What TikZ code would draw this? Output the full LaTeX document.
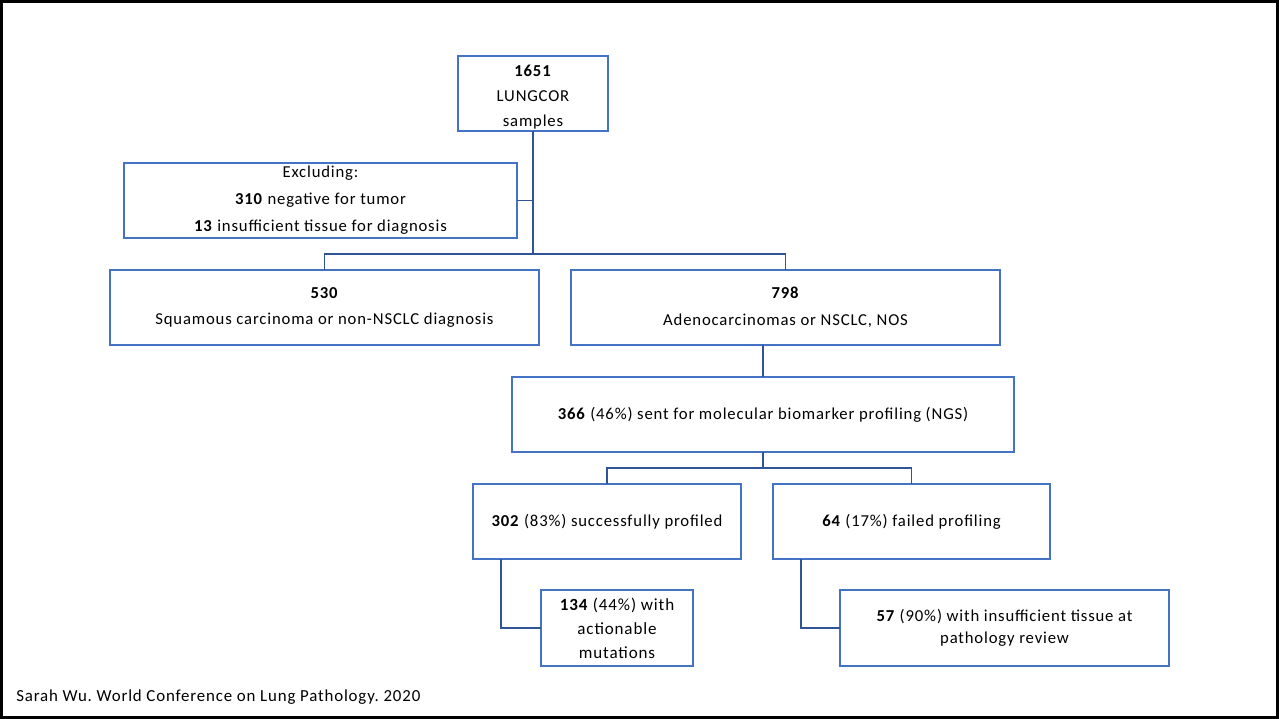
\documentclass[tikz,border=0pt]{standalone}
\usepackage{fontspec}
\setmainfont{Carlito}[LetterSpace=5]
\usepackage{tikz}
\usetikzlibrary{calc,positioning}
\frenchspacing
\definecolor{boxblue}{RGB}{68,114,196}
\definecolor{lineblue}{RGB}{47,85,151}
\tikzset{
  flowbox/.style args={#1,#2}{
  draw=boxblue,
  line width=0.8pt,
  align=center,
  inner sep=1pt,
  outer sep=0pt,
  minimum width=#1 cm,
  minimum height=#2 cm,
  font=\fontsize{9.5}{14.5}\selectfont
  },
  link/.style={draw=lineblue,line width=0.9pt,-},
  cite/.style={font=\fontsize{9.6}{11}\selectfont,anchor=west,inner sep=0pt}
}

\begin{document}
\begin{tikzpicture}

  \useasboundingbox (0,0) rectangle (25.58,-14.38);
  \draw [line width=1.2pt] (0.03,-0.03) rectangle (25.55,-14.35);

  \node [flowbox={3,1.5},inner ysep=0pt,font=\fontsize{9.5}{14}\selectfont] (lung) at (10.66,-1.87)
    {\rule{0pt}{3.7mm}\textbf{1651}\\LUNGCOR\\samples};
  \node [flowbox={7.86,1.5},below=6.4mm of lung,xshift=-4.25cm,font=\fontsize{9.5}{15.3}\selectfont] (excl)
    {Excluding:\\\textbf{310} negative for tumor\\\textbf{13} insufficient tissue for diagnosis};

  \node [flowbox={8.58,1.5},below=6.4mm of excl,xshift=0.08cm,font=\fontsize{9.5}{15.3}\selectfont] (squam)
    {\textbf{530}\\Squamous carcinoma or non-NSCLC diagnosis};
  \node [flowbox={8.58,1.5},right=6.4mm of squam,font=\fontsize{9.5}{15.3}\selectfont] (adeno)
    {\textbf{798}\\Adenocarcinomas or NSCLC, NOS};

  \node [flowbox={10.04,1.5},below=6.4mm of adeno,xshift=-0.45cm] (ngs)
    {\textbf{366} (46\%) sent for molecular biomarker profiling (NGS)};

  \node [flowbox={5.36,1.5},below=6.4mm of ngs,xshift=-3.12cm] (succ)
    {\textbf{302} (83\%) successfully profiled};
  \node [flowbox={5.54,1.5},right=6.4mm of succ] (fail)
    {\textbf{64} (17\%) failed profiling};

  \node [flowbox={3.04,1.52},below=6.2mm of succ,xshift=0.2cm,font=\fontsize{9.7}{13.6}\selectfont] (action)
    {\textbf{134} (44\%) with\\actionable\\mutations};
  \node [flowbox={6.58,1.52},below=6.2mm of fail,xshift=1.86cm,font=\fontsize{9.5}{12.5}\selectfont] (insuf)
    {\textbf{57} (90\%) with insufficient tissue at\\pathology review};

  \coordinate (bus) at ($(excl.south)!0.5!(squam.north)$);
  \coordinate (split) at ($(ngs.south)!0.5!(succ.north)$);

  \draw [link] (lung.south) -- (lung.south |- bus);
  \draw [link] (excl.east) -- (excl.east -| lung.south);
  \draw [link] (squam.north) -- (squam.north |- bus) -- (adeno.north |- bus) -- (adeno.north);
  \draw [link] (ngs.north) -- (ngs.north |- adeno.south);
  \draw [link] (ngs.south) -- (ngs.south |- split);
  \draw [link] (succ.north) -- (succ.north |- split) -- (fail.north |- split) -- (fail.north);
  \draw [link] ([xshift=5.6mm]succ.south west) |- (action.west);
  \draw [link] ([xshift=5.6mm]fail.south west) |- (insuf.west);

  \node [cite] (src) at (0.32,-13.94) {Sarah Wu. World Conference on Lung Pathology. 2020};
\end{tikzpicture}
\end{document}
